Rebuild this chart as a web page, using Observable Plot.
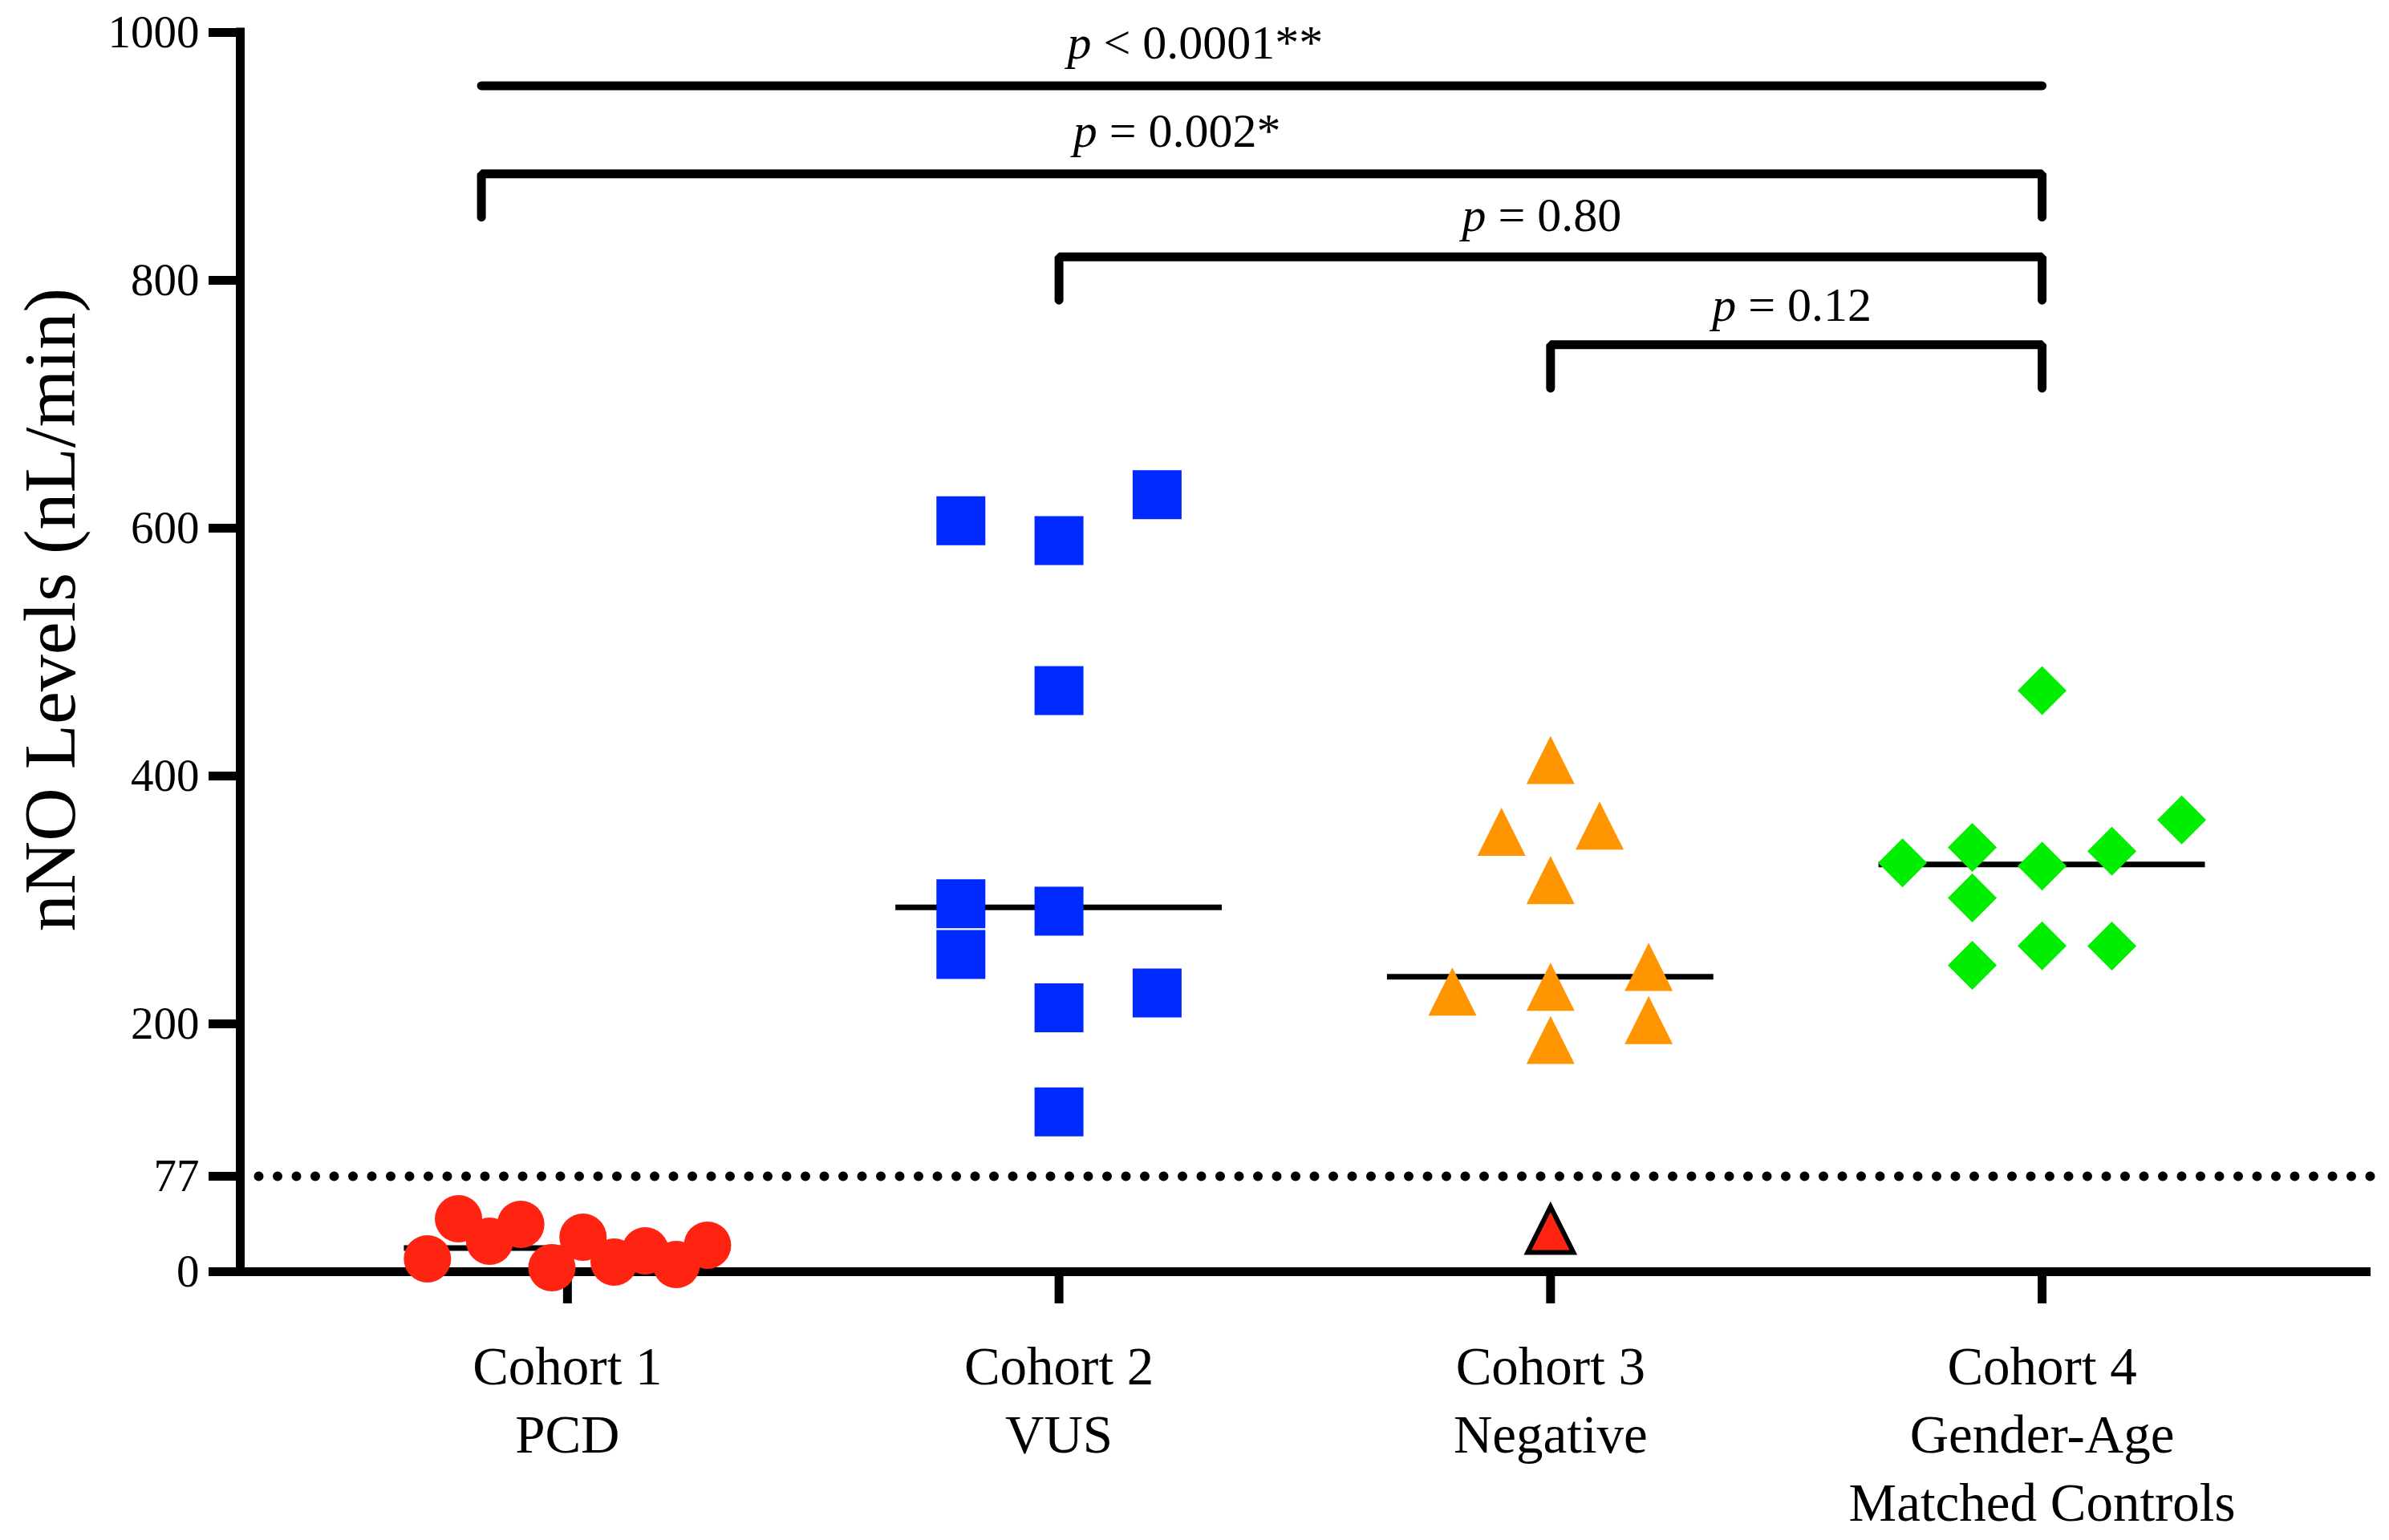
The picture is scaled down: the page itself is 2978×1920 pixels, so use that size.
<!DOCTYPE html>
<html>
<head>
<meta charset="utf-8">
<script src="https://cdn.jsdelivr.net/npm/d3@7"></script>
<script src="https://cdn.jsdelivr.net/npm/@observablehq/plot@0.6"></script>
<style>
  html, body { margin: 0; padding: 0; background: #ffffff; }
  #chart svg { display: block; }
</style>
</head>
<body>
<div id="chart"></div>
<script>
// ---------------- data ----------------
const cohortLabels = [
  "Cohort 1\nPCD",
  "Cohort 2\nVUS",
  "Cohort 3\nNegative",
  "Cohort 4\nGender-Age\nMatched Controls"
];

// nNO values (nL/min) and column slot within each cohort's scatter
const pcdValues  = [10.4, 42.7, 24.6, 38.2, 3.2, 27.8, 7.8, 16.8, 5.8, 21.4];
const pcdSlots   = [-4.5, -3.5, -2.5, -1.5, -0.5, 0.5, 1.5, 2.5, 3.5, 4.5];

const vusValues  = [606, 590, 627, 469, 297, 256, 291, 213, 225, 129];
const vusSlots   = [-2, 0, 2, 0, -2, -2, 0, 0, 2, 0];

const negValues  = [413, 355, 360, 316, 226, 230, 246, 187, 203];
const negSlots   = [0, -1, 1, 0, -2, 0, 2, 0, 2];
const negLowValues = [34];          // the outlined red triangle below the cut-off
const negLowSlots  = [0];

const ctrlValues = [469, 364.6, 330, 342.4, 327.3, 339.4, 301.6, 247.2, 263, 262.8];
const ctrlSlots  = [0, 2, -2, -1, 0, 1, -1, -1, 0, 1];

const yTicks = [0, 77, 200, 400, 600, 800, 1000];
const cutoff = 77;

// pairwise comparisons
const compLabels = ["p < 0.0001**", "p = 0.002*", "p = 0.80", "p = 0.12"];
const compFrom   = [0.825, 0.825, 2, 3];
const compTo     = [4, 4, 4, 4];
const compLevel  = [957, 886, 819, 748];
const compDrop   = [0, 35, 35, 35];
const compTextX  = [2.277, 2.240, 2.982, 3.491];
const compTextY  = [979, 908, 839.5, 767];

// ---------------- symbols ----------------
const squareSym = {draw(ctx, size) { const s = Math.sqrt(size) / 2; ctx.rect(-s, -s, 2 * s, 2 * s); }};
const triSym = {draw(ctx, size) { const s = Math.sqrt(size) / 2; ctx.moveTo(0, -s); ctx.lineTo(s, s); ctx.lineTo(-s, s); ctx.closePath(); }};
const diaSym = {draw(ctx, size) { const s = Math.sqrt(size) / 2; ctx.moveTo(0, -s); ctx.lineTo(s, 0); ctx.lineTo(0, s); ctx.lineTo(-s, 0); ctx.closePath(); }};
const W = w => w / Math.sqrt(Math.PI); // r giving a custom symbol of full width w

const groups = [
  {cohort: 1, values: pcdValues,  slots: pcdSlots,  spacing: 0.0633, symbol: "circle", r: 29.5,  fill: "#FF2412", stroke: "none", sw: 0},
  {cohort: 2, values: vusValues,  slots: vusSlots,  spacing: 0.0998, symbol: squareSym, r: W(61), fill: "#0029FF", stroke: "none", sw: 0},
  {cohort: 3, values: negValues,  slots: negSlots,  spacing: 0.0998, symbol: triSym,    r: W(60), fill: "#FF9500", stroke: "none", sw: 0},
  {cohort: 3, values: negLowValues, slots: negLowSlots, spacing: 0.0998, symbol: triSym, r: W(57), fill: "#FF2412", stroke: "black", sw: 6},
  {cohort: 4, values: ctrlValues, slots: ctrlSlots, spacing: 0.142,  symbol: diaSym,    r: W(61), fill: "#00EE00", stroke: "none", sw: 0}
];
groups.forEach(g => {
  g.rows = g.values.map((v, k) => ({x: g.cohort + g.slots[k] * g.spacing, y: v}));
});

// medians per cohort (all points of a cohort)
const medians = [1, 2, 3, 4].map(c => ({
  cohort: c,
  median: d3.median(groups.filter(g => g.cohort === c).flatMap(g => g.values))
}));

// bracket paths
const bracketRows = [];
compLabels.forEach((lab, i) => {
  const lv = compLevel[i], dr = compDrop[i];
  if (dr > 0) bracketRows.push({id: i, x: compFrom[i], y: lv - dr});
  bracketRows.push({id: i, x: compFrom[i], y: lv});
  bracketRows.push({id: i, x: compTo[i], y: lv});
  if (dr > 0) bracketRows.push({id: i, x: compTo[i], y: lv - dr});
});
const compText = compLabels.map((t, i) => ({text: t, x: compTextX[i], y: compTextY[i]}));

const xDomain = [0.3344, 4.669];
const medianHalf = 0.332;

const svg = Plot.plot({
  width: 2978,
  height: 1920,
  marginLeft: 299,
  marginRight: 23,
  marginTop: 40,
  marginBottom: 335,
  x: {type: "linear", domain: xDomain},
  y: {type: "linear", domain: [0, 1000]},
  style: {fontFamily: "'Liberation Serif', 'DejaVu Serif', serif", fontSize: "57px", background: "#ffffff", color: "#000000"},
  marks: [
    // cut-off dotted line
    Plot.ruleY([cutoff], {stroke: "black", strokeWidth: 12, strokeDasharray: "0 23.5", strokeLinecap: "round"}),
    // axes lines
    Plot.ruleY([0], {stroke: "black", strokeWidth: 11}),
    Plot.ruleX([xDomain[0]], {y1: 0, y2: 1000, stroke: "black", strokeWidth: 11, strokeLinecap: "square"}),
    Plot.axisY({ticks: yTicks, tickFormat: d => String(d), tickSize: 39, tickPadding: 12, strokeWidth: 11, fontSize: 57, label: null}),
    Plot.axisX({ticks: [1, 2, 3, 4], tickFormat: d => cohortLabels[d - 1], tickSize: 40, tickPadding: 40, strokeWidth: 11, fontSize: 67, lineHeight: 1.27, label: null}),
    // y title
    Plot.text(["nNO Levels (nL/min)"], {text: d => d, frameAnchor: "left", rotate: -90, dx: -236, dy: -53, fontSize: 92, textAnchor: "middle", lineAnchor: "middle"}),
    // medians
    Plot.ruleY(medians, {y: "median", x1: d => d.cohort - medianHalf, x2: d => d.cohort + medianHalf, stroke: "black", strokeWidth: 7}),
    // comparison brackets
    Plot.line(bracketRows, {x: "x", y: "y", z: "id", stroke: "black", strokeWidth: 11, strokeLinejoin: "miter", strokeLinecap: "round"}),
    Plot.text(compText, {x: "x", y: "y", text: "text", fontSize: 60, textAnchor: "middle", lineAnchor: "bottom"}),
    // points
    ...groups.map(g => Plot.dot(g.rows, {x: "x", y: "y", symbol: g.symbol, r: g.r, fill: g.fill, stroke: g.stroke, strokeWidth: g.sw}))
  ]
});

// italic "p" in the comparison labels
const NS = "http://www.w3.org/2000/svg";
svg.querySelectorAll("text").forEach(t => {
  const s = t.textContent;
  if (/^p [<=]/.test(s) && t.children.length === 0) {
    t.textContent = "";
    const a = document.createElementNS(NS, "tspan");
    a.setAttribute("font-style", "italic");
    a.textContent = "p";
    const b = document.createElementNS(NS, "tspan");
    b.textContent = s.slice(1);
    t.append(a, b);
  }
});

document.getElementById("chart").append(svg);
</script>
</body>
</html>
